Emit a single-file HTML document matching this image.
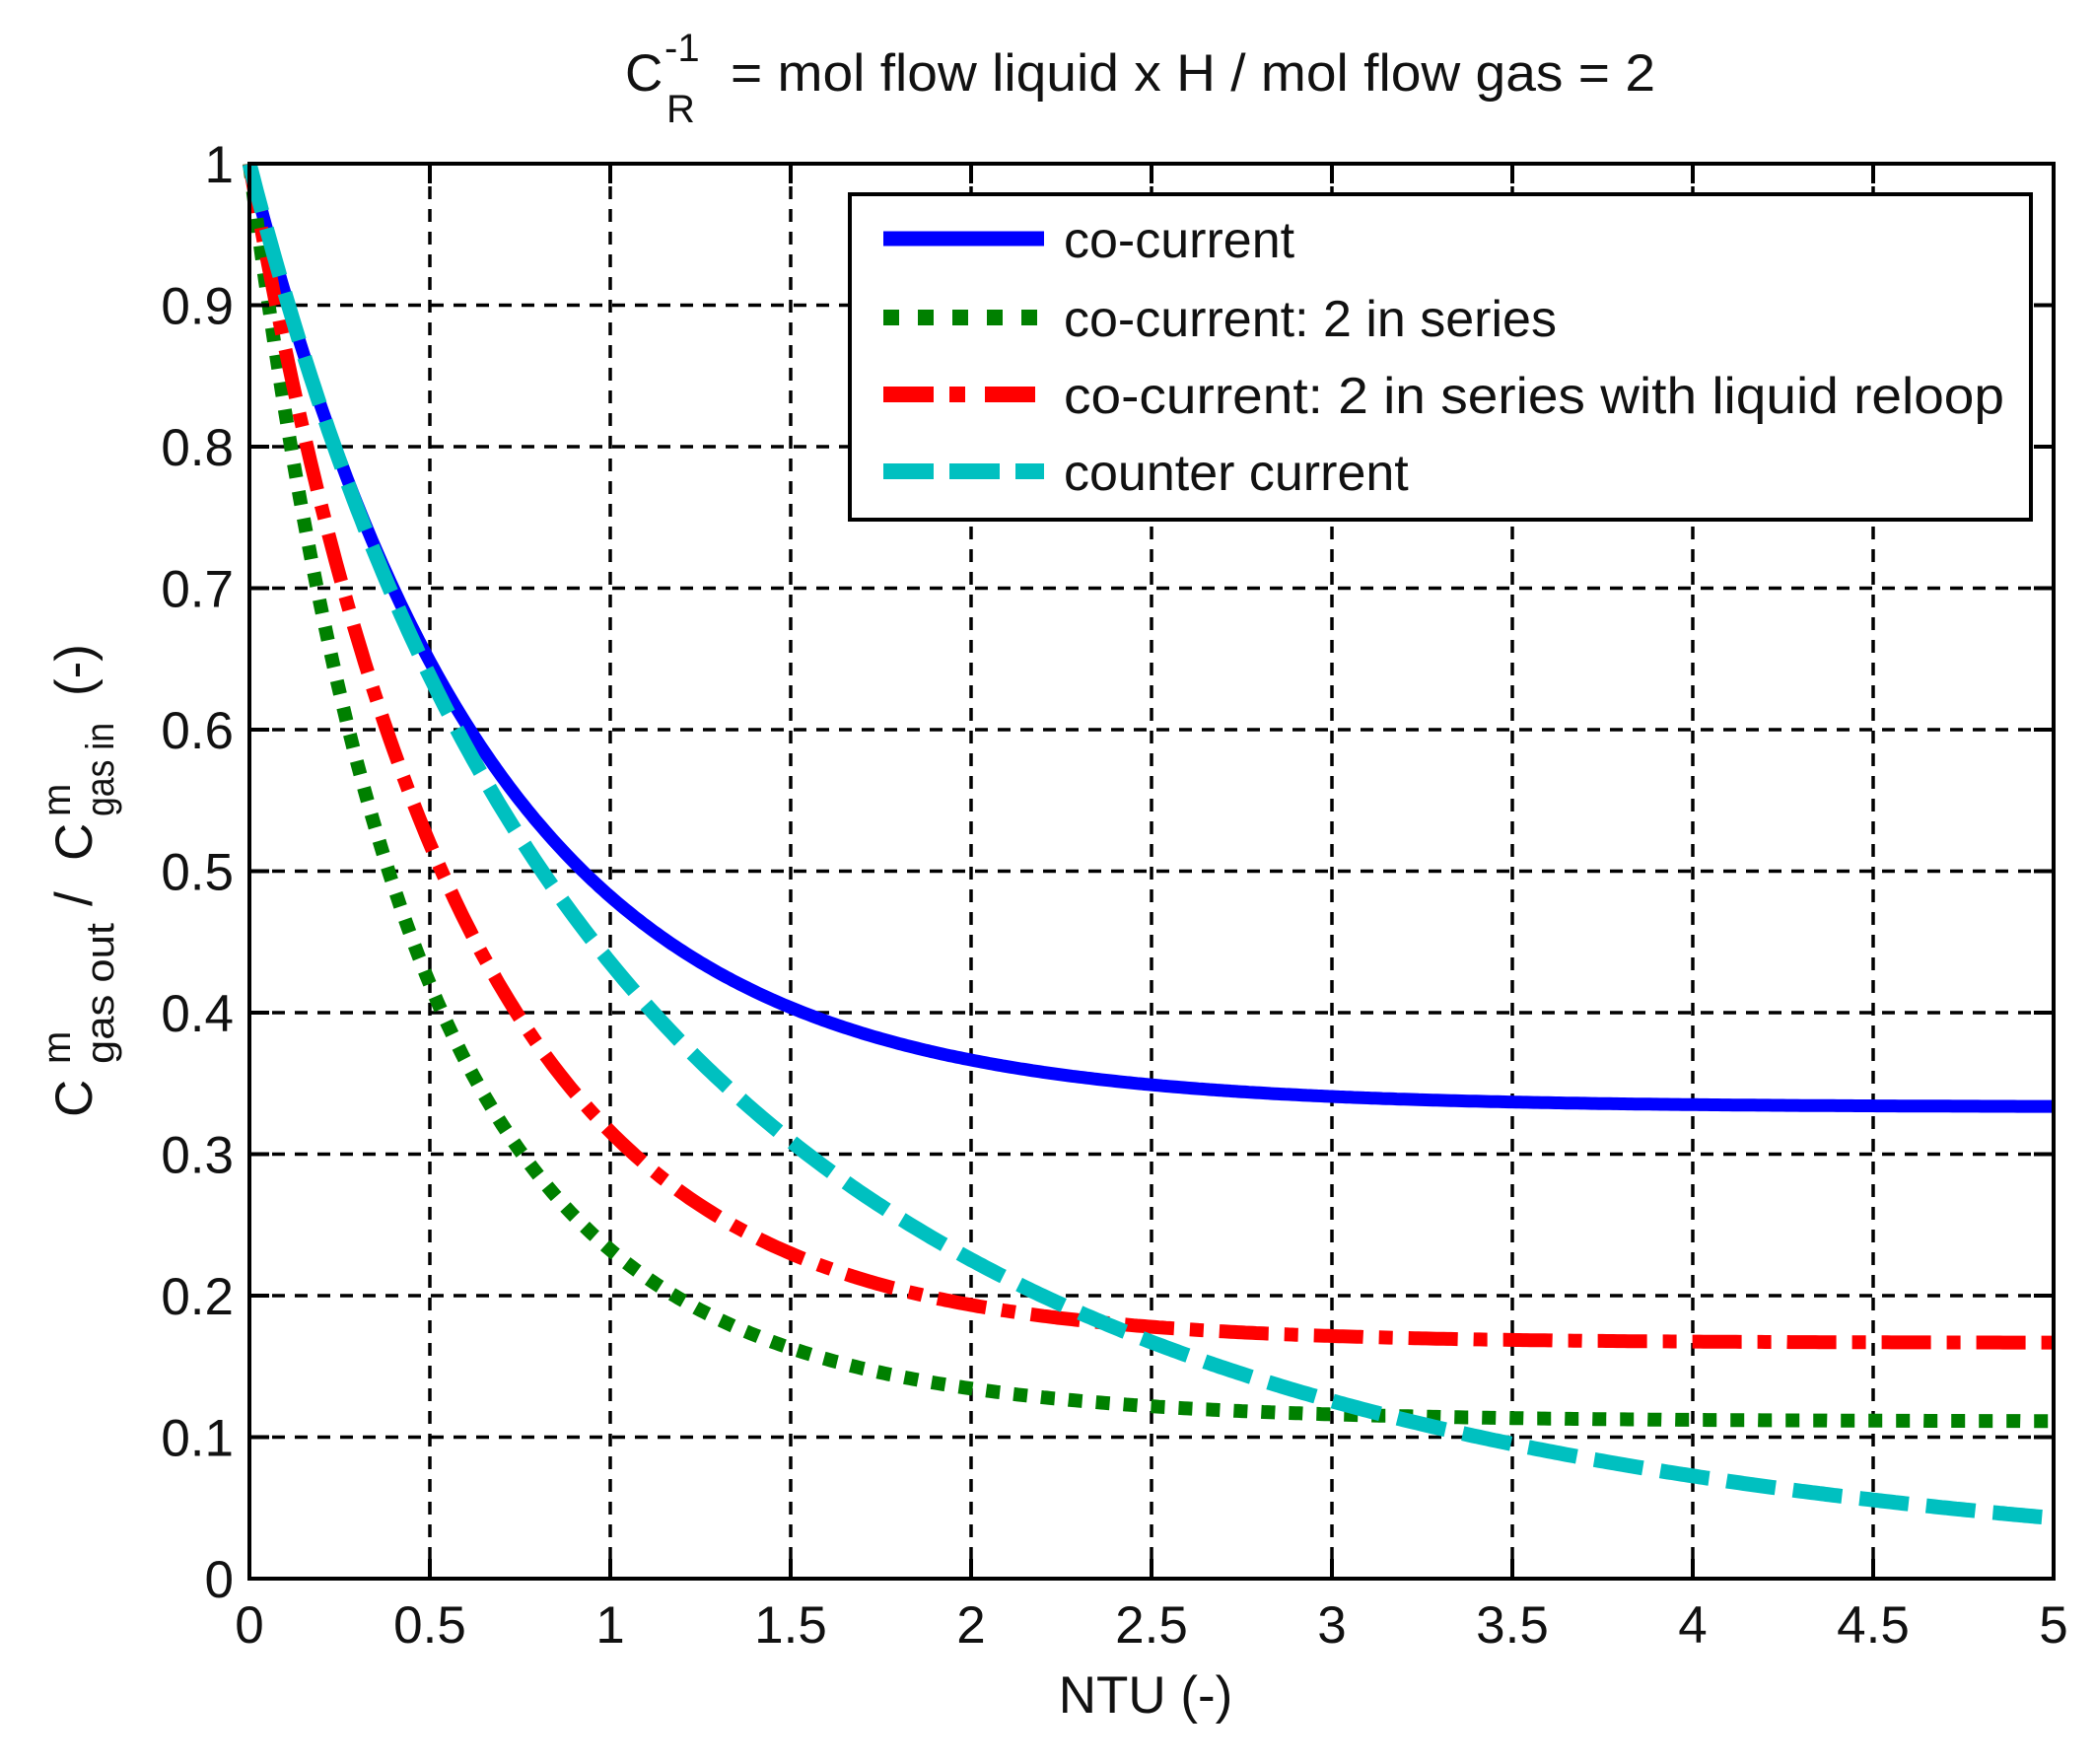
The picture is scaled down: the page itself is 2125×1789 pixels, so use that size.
<!DOCTYPE html>
<html><head><meta charset="utf-8"><style>
html,body{margin:0;padding:0;background:#fff;}
svg{display:block;}
text{font-family:"Liberation Sans",Arial,sans-serif;fill:#111;}
</style></head><body>
<svg id="s" width="2125" height="1789" viewBox="0 0 2125 1789" xmlns="http://www.w3.org/2000/svg">
<rect width="2125" height="1789" fill="#fff"/>
<g id="grid" stroke="#000" stroke-width="3.5" stroke-dasharray="13 10" fill="none"></g>
<g id="curves" fill="none"></g>
<rect x="253" y="166" width="1830" height="1435" fill="none" stroke="#000" stroke-width="4"/>
<g id="ticks" stroke="#000" stroke-width="4"></g>
<g id="labels" font-size="53"></g>
<!-- legend -->
<rect x="862" y="197" width="1198" height="330" fill="#fff" stroke="#000" stroke-width="4"/>
<line x1="896" y1="242" x2="1059" y2="242" stroke="#0000ff" stroke-width="15"/>
<line x1="896" y1="322" x2="1059" y2="322" stroke="#008000" stroke-width="16" stroke-dasharray="16 19"/>
<line x1="896" y1="400" x2="1059" y2="400" stroke="#ff0000" stroke-width="16" stroke-dasharray="51 16 16 20"/>
<line x1="896" y1="478" x2="1059" y2="478" stroke="#00c0c0" stroke-width="16" stroke-dasharray="51 16"/>
<text x="1079" y="261" font-size="52">co-current</text>
<text x="1079" y="341" font-size="52">co-current: 2 in series</text>
<text x="1079" y="419" font-size="52" textLength="954" lengthAdjust="spacingAndGlyphs">co-current: 2 in series with liquid reloop</text>
<text x="1079" y="497" font-size="52">counter current</text>
<!-- title -->
<text x="634" y="92" font-size="53">C</text>
<text x="674" y="62" font-size="40">-1</text>
<text x="676" y="124" font-size="40">R</text>
<text x="741" y="92" font-size="53" textLength="938" lengthAdjust="spacingAndGlyphs">= mol flow liquid x H / mol flow gas = 2</text>
<!-- xlabel -->
<text x="1162" y="1737" font-size="53" text-anchor="middle">NTU (-)</text>
<!-- ylabel -->
<g transform="translate(93,1133) rotate(-90)">
<text x="0" y="0" font-size="53">C</text>
<text x="54" y="-22" font-size="40">m</text>
<text x="54" y="22" font-size="40" textLength="143" lengthAdjust="spacingAndGlyphs">gas out</text>
<text x="214" y="0" font-size="53">/</text>
<text x="260" y="0" font-size="53">C</text>
<text x="305" y="-22" font-size="40">m</text>
<text x="305" y="22" font-size="40" textLength="95" lengthAdjust="spacingAndGlyphs">gas in</text>
<text x="427" y="0" font-size="53">(-)</text>
</g>
</svg>
<script>
(function(){
var NS="http://www.w3.org/2000/svg";
function X(n){return 253+n*366;}
function Y(v){return 1601-v*1435;}
function el(p,t,a){var e=document.createElementNS(NS,t);for(var k in a)e.setAttribute(k,a[k]);p.appendChild(e);return e;}
var g=document.getElementById('grid'),tk=document.getElementById('ticks'),lb=document.getElementById('labels');
for(var i=1;i<10;i++){var x=X(i*0.5);el(g,'line',{x1:x,y1:166,x2:x,y2:1601});}
for(var j=1;j<10;j++){var y=Y(j*0.1);el(g,'line',{x1:253,y1:y,x2:2083,y2:y});}
for(var i=0;i<=10;i++){var x=X(i*0.5);el(tk,'line',{x1:x,y1:1601,x2:x,y2:1581});el(tk,'line',{x1:x,y1:166,x2:x,y2:186});
 var t=el(lb,'text',{x:x,y:1666,'text-anchor':'middle'});t.textContent=(i*0.5).toString();}
for(var j=0;j<=10;j++){var y=Y(j*0.1);el(tk,'line',{x1:253,y1:y,x2:273,y2:y});el(tk,'line',{x1:2083,y1:y,x2:2063,y2:y});
 var t=el(lb,'text',{x:237,y:y+19,'text-anchor':'end'});t.textContent=(j==0?'0':j==10?'1':(j/10).toFixed(1));}
var c=document.getElementById('curves');
function path(f,attrs){var d='';for(var k=0;k<=500;k++){var n=k*5/500;d+=(k?'L':'M')+X(n).toFixed(1)+','+Y(f(n)).toFixed(1);}
 attrs.d=d;el(c,'path',attrs);}
path(function(n){return 1/3+2/3*Math.exp(-1.5*n);},{stroke:'#0000ff','stroke-width':13});
path(function(n){var a=1/3+2/3*Math.exp(-1.5*n);return a*a;},{stroke:'#008000','stroke-width':14,'stroke-dasharray':'14 14'});
path(function(n){return 1/6+5/6*Math.exp(-1.72*n);},{stroke:'#ff0000','stroke-width':14,'stroke-dasharray':'50 16 14 16'});
path(function(n){return 1/(2*Math.exp(0.5*n)-1);},{stroke:'#00c0c0','stroke-width':15,'stroke-dasharray':'50 18'});
})();
</script>
</body></html>
